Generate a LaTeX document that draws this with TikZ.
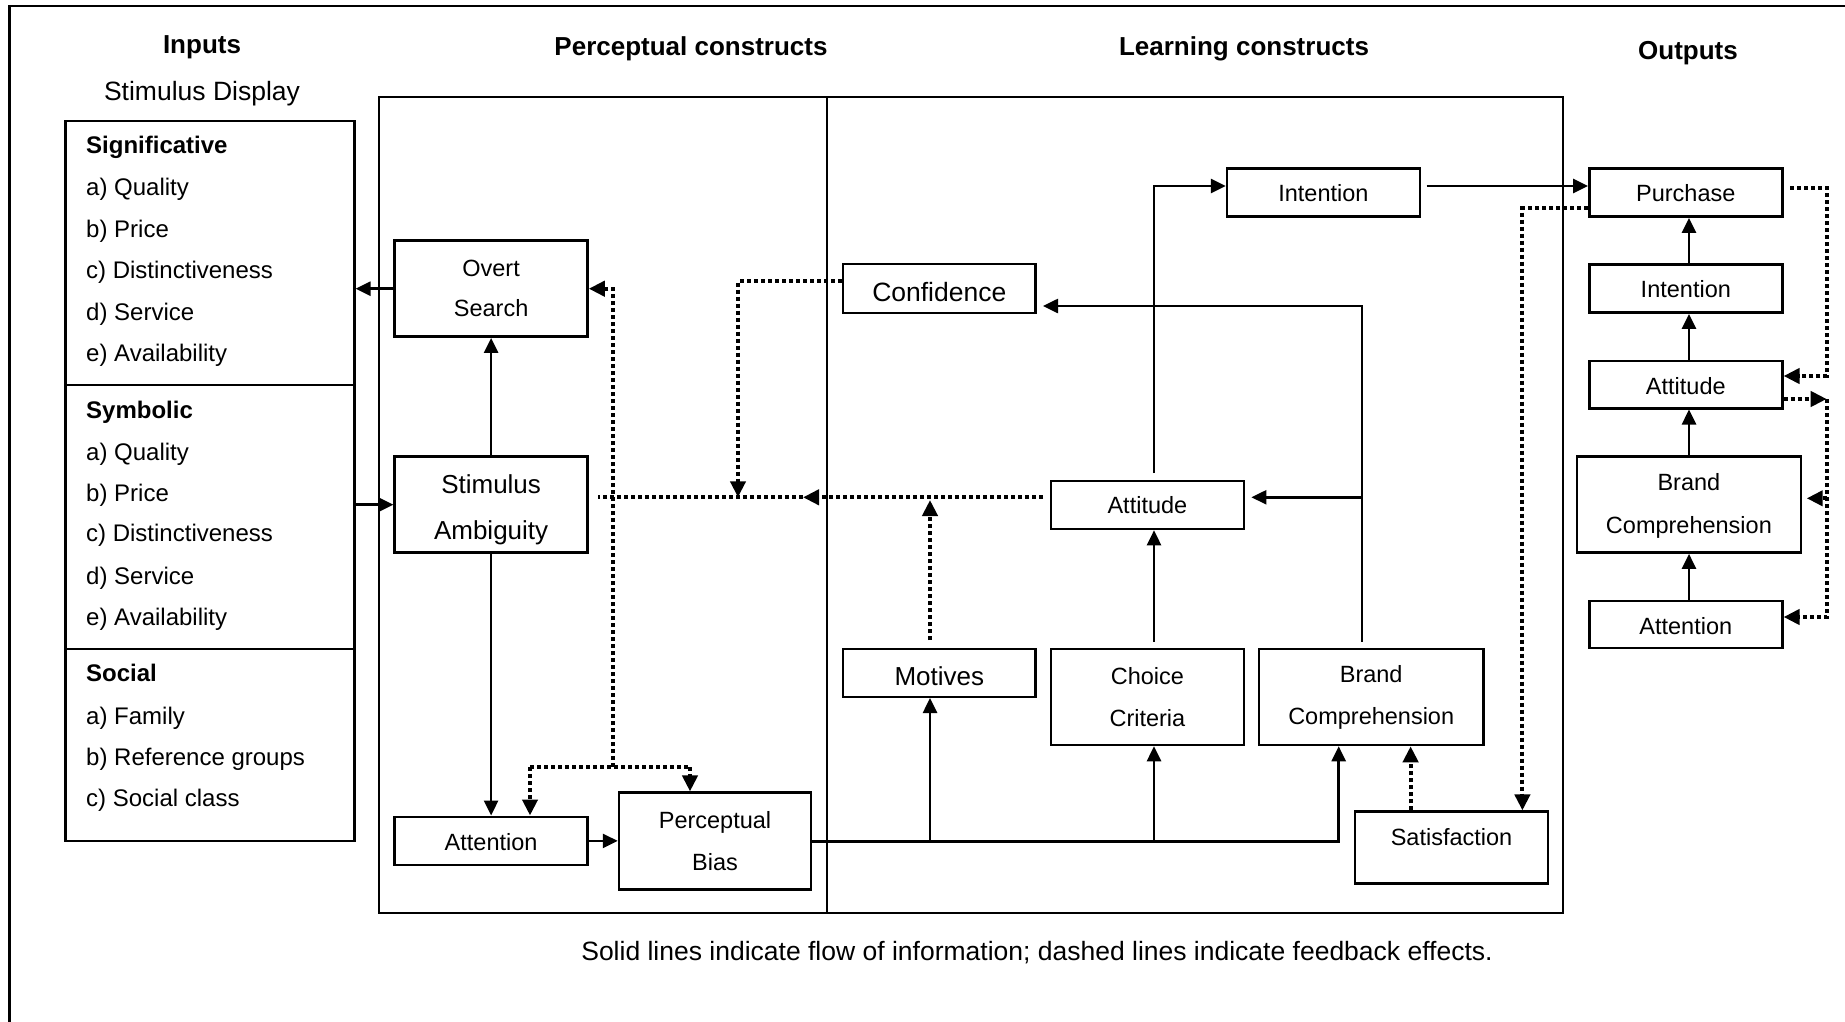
\documentclass[tikz,border=0pt]{standalone}
\usepackage{fontspec}
\setmainfont{Liberation Sans}
\usetikzlibrary{arrows.meta}
\newcommand\fsz[2]{\fontsize{#1}{#2}\selectfont}
\newcommand\lowertxt[2]{\raisebox{-#1}[\height][\depth]{#2}}
\begin{document}
\begin{tikzpicture}[x=1pt,y=-1pt,
  box/.style={draw, line width=2.5pt, inner sep=0pt, align=center, font=\fsz{23.5}{42}},
  con/.style={line width=2.6pt, -{Triangle[length=15pt,width=14pt]}},
  fb/.style={line width=4.1pt, dash pattern=on 4pt off 3pt},
  fba/.style={fb, -{Triangle[length=16pt,width=15pt]}},
  lbl/.style={inner sep=0pt, anchor=base, font=\fsz{26.5}{31}},
  hd/.style={inner sep=0pt, anchor=base, font=\bfseries\fsz{26}{31}},
  item/.style={inner sep=0pt, anchor=base west, font=\fsz{24}{29}},
  frm/.style={line width=2.2pt}
]
\useasboundingbox (0,0) rectangle (1845,1022);
\fill[white] (0,0) rectangle (1845,1022);
% outer frame (cut off at right and bottom)
\draw[frm] (9.5,1040) -- (9.5,6) -- (1860,6);

% headings
\node[hd] (hInputs) at (202,53.8) {Inputs};
\node[lbl] (hStim) at (202,101) {Stimulus Display};
\node[hd] (hPerc) at (691,56) {Perceptual constructs};
\node[hd] (hLearn) at (1244,56) {Learning constructs};
\node[hd] (hOut) at (1688,59.3) {Outputs};
\node[lbl] (caption) at (1037,960) {Solid lines indicate flow of information; dashed lines indicate feedback effects.};

% construct frame
\draw[frm] (378.8,96.7) rectangle (1563.3,912.7);
\draw[line width=1.8pt] (827,96.7) -- (827,912.7);

% inputs box
\node[box, minimum width=288.7pt, minimum height=720pt] (inputs) at (210,481) {};
\draw[line width=2.5pt] (65.6,385) -- (354.3,385);
\draw[line width=2.5pt] (65.6,649) -- (354.3,649);
\node[item] (i1) at (86,153.6) {\bfseries Significative};
\node[item] (i2) at (86,195.6) {a) Quality};
\node[item] (i3) at (86,237.6) {b) Price};
\node[item] (i4) at (86,278.6) {c) Distinctiveness};
\node[item] (i5) at (86,320.6) {d) Service};
\node[item] (i6) at (86,361.6) {e) Availability};
\node[item] (j1) at (86,418.6) {\bfseries Symbolic};
\node[item] (j2) at (86,460.6) {a) Quality};
\node[item] (j3) at (86,501.6) {b) Price};
\node[item] (j4) at (86,541.6) {c) Distinctiveness};
\node[item] (j5) at (86,584.6) {d) Service};
\node[item] (j6) at (86,625.6) {e) Availability};
\node[item] (k1) at (86,681.6) {\bfseries Social};
\node[item] (k2) at (86,724.6) {a) Family};
\node[item] (k3) at (86,765.6) {b) Reference groups};
\node[item] (k4) at (86,806.6) {c) Social class};

% perceptual constructs
\node[box, minimum width=192.8pt, minimum height=96pt, font=\fsz{23.5}{40}] (overt) at (491.1,288.7) {Overt\\Search};
\node[box, minimum width=192.8pt, minimum height=96pt, font=\fsz{26}{46}] (stimamb) at (491.1,504.7) {\rule{0pt}{29pt}Stimulus\\Ambiguity};
\node[box, minimum width=192.8pt, minimum height=48.3pt] (attL) at (491.1,840.9) {\lowertxt{1.5pt}{Attention}};
\node[box, minimum width=192pt, minimum height=96.6pt] (pbias) at (715,841) {Perceptual\\Bias};

% learning constructs
\node[box, minimum width=192.5pt, minimum height=48.7pt, font=\fsz{26.5}{31}] (conf) at (939.3,288.4) {\lowertxt{3.5pt}{Confidence}};
\node[box, minimum width=192.5pt, minimum height=47.7pt, font=\fsz{26}{31}] (motives) at (939.3,672.9) {\lowertxt{3pt}{Motives}};
\node[box, minimum width=192.8pt, minimum height=48pt] (intM) at (1323.4,192.7) {Intention};
\node[box, minimum width=192.8pt, minimum height=48.3pt] (attM) at (1147.4,504.9) {Attitude};
\node[box, minimum width=192.8pt, minimum height=96pt] (choice) at (1147.4,697) {Choice\\Criteria};
\node[box, minimum width=224.3pt, minimum height=96pt] (brandM) at (1371.2,697) {Brand\\Comprehension};
\node[box, minimum width=193pt, minimum height=71.6pt] (sat) at (1451.5,847.5) {};
\node[inner sep=0pt, anchor=base, font=\fsz{23.5}{28}] (satT) at (1451.5,845.4) {Satisfaction};

% outputs
\node[box, minimum width=193pt, minimum height=48.3pt] (purchase) at (1685.8,192.5) {\lowertxt{1pt}{Purchase}};
\node[box, minimum width=193pt, minimum height=48.4pt] (intO) at (1685.8,288.5) {\lowertxt{1pt}{Intention}};
\node[box, minimum width=193pt, minimum height=47.1pt] (attO) at (1685.8,384.7) {\lowertxt{1pt}{Attitude}};
\node[box, minimum width=224.3pt, minimum height=96pt, font=\fsz{23.5}{43}] (brandO) at (1688.9,504.6) {\rule{0pt}{20pt}Brand\\Comprehension};
\node[box, minimum width=193pt, minimum height=47pt] (attnO) at (1685.8,624.5) {\lowertxt{2pt}{Attention}};

% guides
\coordinate (gA) at (1154,0);
\coordinate (gB) at (1362,0);
\coordinate (gM) at (930,0);
\coordinate (gBc) at (1338.7,0);
\coordinate (gS) at (1410.6,0);
\coordinate (gP) at (1522.4,0);
\coordinate (gR) at (1826.7,0);
\coordinate (gD) at (613,0);
\coordinate (gC) at (738,0);
\coordinate (gAt) at (530,0);
\coordinate (gPb) at (690,0);
\coordinate (gO) at (1689,0);
\coordinate (hMain) at (0,497.3);
\coordinate (hLow) at (0,841.7);
\coordinate (hInt) at (0,186);
\coordinate (hConf) at (0,306);
\coordinate (hDot) at (0,767);
\coordinate (hCf) at (0,281.3);
\coordinate (hPL) at (0,208.3);
\coordinate (hPR) at (0,188);
\coordinate (hA1) at (0,376);
\coordinate (hA2) at (0,399);
\coordinate (hAt) at (0,617);
\coordinate (hB) at (0,498.3);
% free ends
\coordinate (cTop) at (1154,641.7);
\coordinate (aTop) at (1154,473);
\coordinate (iOut) at (1426.7,186);
\coordinate (bTop) at (1362,641.7);
\coordinate (cfR) at (1043,306);
\coordinate (amR) at (1251.4,497.3);
\coordinate (amL) at (1043,497.3);
\coordinate (mdTip) at (803,497.3);
\coordinate (mdEnd) at (598,497.3);
\coordinate (mvTop) at (930,640);
\coordinate (mvTip) at (930,500);
\coordinate (pR) at (1790,188);
\coordinate (bOtip) at (1806.7,498.3);

% solid connectors
\draw[con] (overt.west) -- (overt.west -| inputs.east);
\draw[con] (stimamb.north) -- (overt.south);
\draw[con] (stimamb.west -| inputs.east) -- (stimamb.west);
\draw[con] (stimamb.south) -- (attL.north);
\draw[con] (attL.east) -- (attL.east -| pbias.west);
\draw[con] (pbias.east |- hLow) -- (gBc |- hLow) -- (gBc |- brandM.south);
\draw[con] (gM |- hLow) -- (gM |- motives.south);
\draw[con] (gA |- hLow) -- (gA |- choice.south);
\draw[con] (cTop) -- (gA |- attM.south);
\draw[con] (aTop) -- (gA |- hInt) -- (intM.west |- hInt);
\draw[con] (iOut) -- (purchase.west |- hInt);
\draw[con] (bTop) -- (gB |- hConf) -- (cfR);
\draw[con] (gB |- hMain) -- (amR);
\draw[con] (gO |- attnO.north) -- (gO |- brandO.south);
\draw[con] (gO |- brandO.north) -- (gO |- attO.south);
\draw[con] (gO |- attO.north) -- (gO |- intO.south);
\draw[con] (gO |- intO.north) -- (gO |- purchase.south);

% feedback (dotted) connectors
\draw[fba] (conf.west |- hCf) -- (gC |- hCf) -- (gC |- hMain);
\draw[fba] (amL) -- (mdTip);
\draw[fb] (mdTip) -- (mdEnd);
\draw[fba] (mvTop) -- (mvTip);
\draw[fb] (gAt |- hDot) -- (gPb |- hDot);
\draw[fba] (gAt |- hDot) -- (gAt |- attL.north);
\draw[fba] (gPb |- hDot) -- (gPb |- pbias.north);
\draw[fba] (gD |- hDot) -- (gD |- overt.east) -- (overt.east);
\draw[fba] (purchase.west |- hPL) -- (gP |- hPL) -- (gP |- sat.north);
\draw[fba] (gS |- sat.north) -- (gS |- brandM.south);
\draw[fba] (pR) -- (gR |- hPR) -- (gR |- hA1) -- (attO.east |- hA1);
\draw[fba] (attO.east |- hA2) -- (gR |- hA2);
\draw[fba] (gR |- hA2) -- (gR |- hAt) -- (attnO.east |- hAt);
\draw[fba] (gR |- hB) -- (bOtip);
\end{tikzpicture}
\end{document}
